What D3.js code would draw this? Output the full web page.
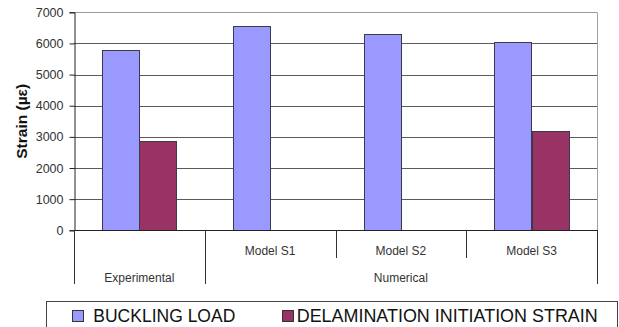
<!DOCTYPE html>
<html>
<head>
<meta charset="utf-8">
<script src="https://cdn.jsdelivr.net/npm/d3@7"></script>
<style>
  html, body { margin: 0; padding: 0; background: #fff; }
  svg { display: block; font-family: "Liberation Sans", Arial, sans-serif; }
</style>
</head>
<body>
<svg id="chart" width="619" height="327"></svg>
<script>
// Strain results per specimen / model
const categories = ["Experimental", "Model S1", "Model S2", "Model S3"];
const groups = [
  { label: "Experimental", from: 0, to: 0 },
  { label: "Numerical", from: 1, to: 3 }
];
const seriesNames = ["BUCKLING LOAD", "DELAMINATION INITIATION STRAIN"];
const bucklingLoad = [5800, 6570, 6290, 6060];
const delaminationStrain = [2880, null, null, 3180];
const yTicks = [0, 1000, 2000, 3000, 4000, 5000, 6000, 7000];
const seriesColors = ["#9999FF", "#993366"];

const svg = d3.select("#chart");
const plot = { left: 74, right: 597, top: 12.3, bottom: 230.3 };

const x = d3.scaleBand().domain(categories).range([plot.left, plot.right]).paddingInner(0).paddingOuter(0);
const xs = d3.scaleBand().domain(seriesNames).range([0, x.bandwidth()]).paddingInner(0).paddingOuter(0.75);
const y = d3.scaleLinear().domain([0, 7000]).range([plot.bottom, plot.top]);

// Horizontal gridlines
svg.append("g").selectAll("line").data(yTicks.filter(t => t > 0)).join("line")
  .attr("x1", plot.left).attr("x2", plot.right)
  .attr("y1", d => Math.round(y(d)) + 0.5).attr("y2", d => Math.round(y(d)) + 0.5)
  .attr("stroke", d => d === 7000 ? "#9a9a9a" : "#5a5a5a")
  .attr("stroke-width", 1);

// Right border of the plot area
svg.append("line")
  .attr("x1", plot.right + 0.5).attr("x2", plot.right + 0.5)
  .attr("y1", Math.round(y(7000)) + 0.5).attr("y2", plot.bottom)
  .attr("stroke", "#a0a0a0");

// Bars
const rows = categories.map((c, i) => ({ cat: c, vals: [bucklingLoad[i], delaminationStrain[i]] }));
const barG = svg.append("g");
rows.forEach(r => {
  r.vals.forEach((v, si) => {
    if (v == null) return;
    barG.append("rect")
      .attr("x", Math.round(x(r.cat) + xs(seriesNames[si])) + 0.5)
      .attr("y", Math.round(y(v)) + 0.5)
      .attr("width", Math.round(xs.bandwidth()))
      .attr("height", Math.round(y(0)) - Math.round(y(v)))
      .attr("fill", seriesColors[si])
      .attr("stroke", "#3a3a4a")
      .attr("stroke-width", 1);
  });
});

// Y axis
const yAxis = d3.axisLeft(y).tickValues(yTicks).tickSize(5).tickPadding(6).tickFormat(d3.format("d"));
const yg = svg.append("g").attr("transform", `translate(${plot.left + 0.5},0)`).call(yAxis);
yg.select(".domain").attr("stroke", "#222");
yg.selectAll(".tick line").attr("stroke", "#222");
yg.selectAll(".tick text").attr("font-size", 12.5).attr("fill", "#333")
  .attr("font-family", "'Liberation Sans', Arial, sans-serif");

// Category axis baseline
svg.append("line")
  .attr("x1", plot.left).attr("x2", plot.right + 1)
  .attr("y1", Math.round(y(0)) + 0.5).attr("y2", Math.round(y(0)) + 0.5)
  .attr("stroke", "#222");

// Category dividers: short ones between models, long ones at group edges
const groupEdges = new Set([0, 1, 4]);
const edges = d3.range(categories.length + 1);
svg.append("g").selectAll("line").data(edges).join("line")
  .attr("x1", i => Math.round(i < categories.length ? x(categories[i]) : plot.right) + 0.5)
  .attr("x2", i => Math.round(i < categories.length ? x(categories[i]) : plot.right) + 0.5)
  .attr("y1", plot.bottom)
  .attr("y2", i => groupEdges.has(i) ? 284 : 258)
  .attr("stroke", "#333");

// Model labels (first row, numerical only)
svg.append("g").selectAll("text").data(categories.slice(1)).join("text")
  .attr("x", d => x(d) + x.bandwidth() / 2)
  .attr("y", 255)
  .attr("text-anchor", "middle")
  .attr("font-size", 12).attr("fill", "#333")
  .text(d => d);

// Group labels (second row)
svg.append("g").selectAll("text").data(groups).join("text")
  .attr("x", g => (x(categories[g.from]) + x(categories[g.to]) + x.bandwidth()) / 2)
  .attr("y", 282)
  .attr("text-anchor", "middle")
  .attr("font-size", 12).attr("fill", "#333")
  .text(g => g.label);

// Y axis title
svg.append("text")
  .attr("transform", `translate(27,${(plot.top + plot.bottom) / 2}) rotate(-90)`)
  .attr("text-anchor", "middle")
  .attr("font-size", 15.5).attr("font-weight", "bold").attr("fill", "#111")
  .text("Strain (\u00B5\u03B5)");

// Legend
svg.append("rect")
  .attr("x", 46.5).attr("y", 301.5).attr("width", 571).attr("height", 40)
  .attr("fill", "none").attr("stroke", "#444");
const legendX = [72, 282];
const legendTextLen = [142, 301];
const legend = svg.append("g").selectAll("g").data(seriesNames).join("g")
  .attr("transform", (d, i) => `translate(${legendX[i]},0)`);
legend.append("rect")
  .attr("x", 0.5).attr("y", 310.5).attr("width", 11).attr("height", 11)
  .attr("fill", (d, i) => seriesColors[i]).attr("stroke", "#333");
legend.append("text")
  .attr("transform", (d, i) => `translate(${i === 0 ? 21.3 : 14.7},322) scale(1,1.1)`)
  .attr("font-size", 16.5).attr("fill", "#111")
  .attr("textLength", (d, i) => legendTextLen[i])
  .attr("lengthAdjust", "spacingAndGlyphs")
  .text(d => d);
</script>
</body>
</html>
